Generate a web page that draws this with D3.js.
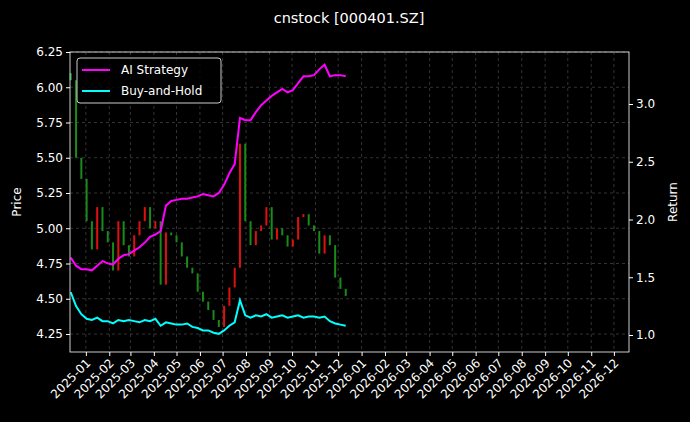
<!DOCTYPE html><html><head><script src="https://cdn.jsdelivr.net/npm/d3@7"></script>
<style>body{margin:0;background:#000}svg text{font-family:"DejaVu Sans";fill:#fff}</style></head><body><svg id="c" width="690" height="422"></svg>
<script>
const startDate="2024-12-12";
const closes=[6.05,5.50,5.35,5.05,4.85,5.15,4.98,4.90,4.70,5.05,4.88,4.80,4.95,5.05,5.15,5.00,5.05,4.60,4.97,4.95,4.90,4.80,4.72,4.68,4.55,4.48,4.42,4.35,4.30,4.45,4.58,4.72,5.60,5.05,4.88,4.98,5.02,5.15,4.92,5.00,4.95,4.87,4.92,5.08,5.10,5.02,4.98,4.82,4.95,4.88,4.65,4.57,4.52];
const aiStrategy=[1.67,1.60,1.57,1.57,1.56,1.60,1.64,1.62,1.61,1.66,1.69,1.70,1.73,1.76,1.80,1.85,1.87,1.90,2.12,2.16,2.17,2.18,2.18,2.19,2.20,2.22,2.21,2.20,2.23,2.30,2.40,2.48,2.88,2.86,2.86,2.93,2.99,3.03,3.07,3.10,3.13,3.10,3.12,3.18,3.24,3.24,3.25,3.30,3.34,3.24,3.25,3.25,3.24];
const buyHold=[1.37,1.25,1.18,1.14,1.13,1.15,1.12,1.12,1.10,1.13,1.12,1.13,1.12,1.11,1.13,1.12,1.14,1.08,1.11,1.10,1.09,1.09,1.10,1.07,1.06,1.04,1.04,1.02,1.01,1.04,1.08,1.11,1.30,1.17,1.15,1.17,1.16,1.18,1.15,1.16,1.17,1.15,1.16,1.17,1.15,1.16,1.16,1.15,1.16,1.12,1.10,1.09,1.08];
const priceTicks=[4.25,4.5,4.75,5.0,5.25,5.5,5.75,6.0,6.25];
const returnTicks=[1.0,1.5,2.0,2.5,3.0];
const xDomain=["2024-12-11","2026-12-21"];

const svg=d3.select("#c");
const L=70,R=629,T=52,B=352;
const p=d3.timeParse("%Y-%m-%d");
const s0=p(startDate);
const dates=closes.map((_,i)=>d3.timeDay.offset(s0,7*i));
const x=d3.scaleTime().domain(xDomain.map(p)).range([L,R]);
const y=d3.scaleLinear().domain([4.25-(352-334)/141, 6.25]).range([B,T]);
const y2=d3.scaleLinear().domain([1.0-(352-335)/115.5, 3.0+(104-52)/115.5]).range([B,T]);
const months=d3.timeMonth.range(p("2025-01-01"),p("2026-12-02"));
const g=svg.append("g");
g.selectAll(".gx").data(months).join("line").attr("x1",d=>x(d)).attr("x2",d=>x(d)).attr("y1",T).attr("y2",B).attr("stroke","#555").attr("stroke-width",0.6).attr("stroke-dasharray","3,3");
g.selectAll(".gy").data(priceTicks).join("line").attr("x1",L).attr("x2",R).attr("y1",d=>y(d)).attr("y2",d=>y(d)).attr("stroke","#555").attr("stroke-width",0.6).attr("stroke-dasharray","3,3");
const opens=closes.map((c,i)=>i?closes[i-1]:c+0.05);
svg.append("g").selectAll("rect").data(closes).join("rect")
 .attr("x",(d,i)=>x(dates[i])-1).attr("width",2)
 .attr("y",(d,i)=>y(Math.max(d,opens[i]))).attr("height",(d,i)=>Math.max(1,Math.abs(y(d)-y(opens[i]))))
 .attr("fill",(d,i)=>d>=opens[i]?"#e01010":"#1a8a1a");
const line=yy=>d3.line().x((d,i)=>x(dates[i])).y(d=>yy(d));
svg.append("path").datum(aiStrategy).attr("d",line(y2)).attr("fill","none").attr("stroke","#ff00ff").attr("stroke-width",2);
svg.append("path").datum(buyHold).attr("d",line(y2)).attr("fill","none").attr("stroke","#00ffff").attr("stroke-width",2);
const ax=svg.append("g").attr("transform",`translate(0,${B})`).call(d3.axisBottom(x).tickValues(months).tickFormat(d3.timeFormat("%Y-%m")).tickSize(4));
const ay=svg.append("g").attr("transform",`translate(${L},0)`).call(d3.axisLeft(y).tickValues(priceTicks).tickFormat(d3.format(".2f")).tickSize(4));
const ay2=svg.append("g").attr("transform",`translate(${R},0)`).call(d3.axisRight(y2).tickValues(returnTicks).tickFormat(d3.format(".1f")).tickSize(4));
[ax,ay,ay2].forEach(a=>{a.selectAll("line,path").attr("stroke","#fff");a.selectAll("text").style("font-size","12px").attr("fill","#fff");a.select(".domain").remove();});
ax.selectAll("text").attr("transform","rotate(-45)").attr("text-anchor","end").attr("dx","-0.4em").attr("dy","0.4em");
svg.append("rect").attr("x",L).attr("y",T).attr("width",R-L).attr("height",B-T).attr("fill","none").attr("stroke","#fff").attr("stroke-width",0.8);
svg.append("text").attr("x",349).attr("y",23).attr("text-anchor","middle").style("font-size","14.5px").text("cnstock [000401.SZ]");
svg.append("text").attr("transform","translate(21,202) rotate(-90)").attr("text-anchor","middle").style("font-size","12px").text("Price");
svg.append("text").attr("transform","translate(677,202) rotate(-90)").attr("text-anchor","middle").style("font-size","12px").text("Return");
const lg=svg.append("g");
lg.append("rect").attr("x",77).attr("y",58).attr("width",144).attr("height",45).attr("rx",3).attr("fill","#000").attr("fill-opacity",0.8).attr("stroke","#ccc");
[["AI Strategy","#ff00ff"],["Buy-and-Hold","#00ffff"]].forEach(([t,c],i)=>{
 lg.append("line").attr("x1",82).attr("x2",110).attr("y1",70+i*21).attr("y2",70+i*21).attr("stroke",c).attr("stroke-width",2);
 lg.append("text").attr("x",121).attr("y",74+i*21).style("font-size","12px").text(t);
});
</script></body></html>
